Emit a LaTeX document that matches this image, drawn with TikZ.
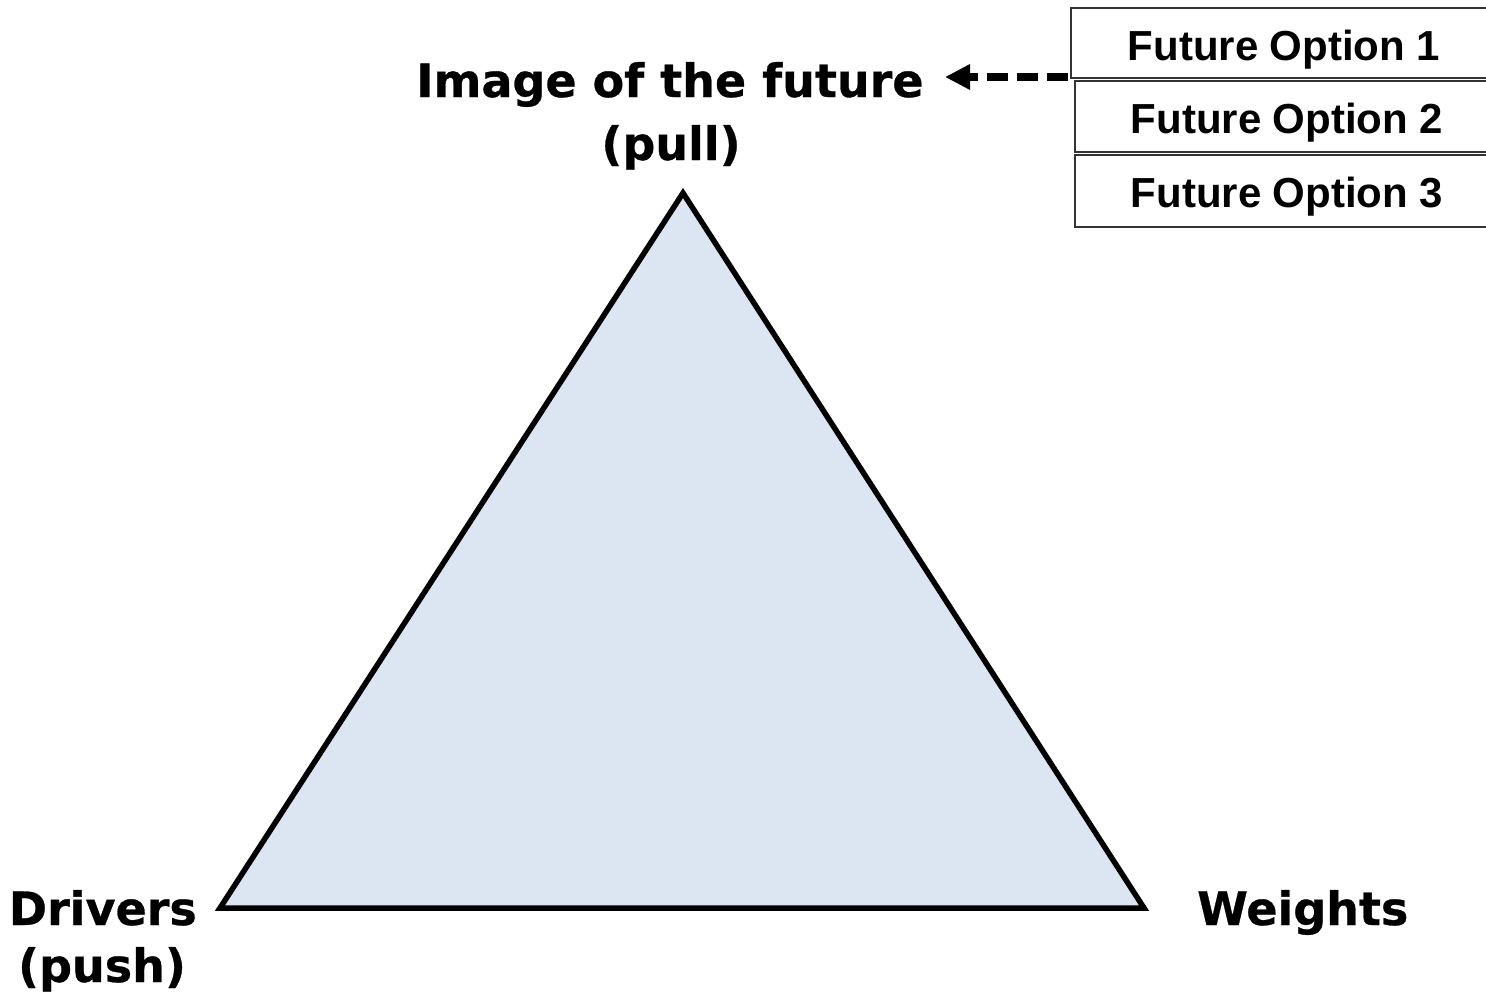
\documentclass[tikz,border=0pt]{standalone}
\usepackage{fontspec}
\setmainfont{DejaVu Sans}[BoldFeatures={FakeBold=0.6}]
\newfontfamily\arialb{Liberation Sans}[BoldFont={* Bold}]
\usetikzlibrary{arrows.meta}
\definecolor{trifill}{HTML}{DCE6F2}
\begin{document}
\begin{tikzpicture}[x=1pt,y=-1pt,
  biglabel/.style={font=\fontsize{46}{61}\selectfont\bfseries, inner sep=0pt, anchor=base},
  opttext/.style={font=\arialb\fontsize{42}{48}\selectfont\bfseries, inner sep=0pt, anchor=base},
  optbox/.style={draw=black!80, line width=1.5pt, fill=white},
  dasharrow/.style={line width=8pt, dash pattern=on 21pt off 9pt, -{Triangle[length=25pt,width=24pt]}}]
\useasboundingbox (0,0) rectangle (1486,993);
\clip (0,0) rectangle (1486,993);
% triangle
\coordinate (apex) at (683,193);
\coordinate (left) at (220,908);
\coordinate (right) at (1144,908);
\filldraw[fill=trifill, draw=black, line width=5.5pt, line join=miter] (apex) -- (right) -- (left) -- cycle;
% labels
\node[biglabel] (img) at (670,97) {Image of the future};
\node[biglabel] (pull) at (671,160) {(pull)};
\node[biglabel, anchor=base east] (drv1) at (197,925) {Drivers};
\node[biglabel] (drv2) at (102,982) {(push)};
\node[biglabel, anchor=base west] (wts) at (1197,925) {Weights};
% option boxes
\draw[optbox] (1071,8) rectangle (1500,78);
\node[opttext] (b1) at (1284,60) {Future Option 1};
\draw[optbox] (1075,81) rectangle (1500,152);
\node[opttext] (b2) at (1287,133) {Future Option 2};
\draw[optbox] (1075,155) rectangle (1500,227);
\node[opttext] (b3) at (1287,207) {Future Option 3};
% arrow
\coordinate (astart) at (1068,77);
\coordinate (aend) at (945,77);
\draw[dasharrow] (astart) -- (aend);
\end{tikzpicture}
\end{document}
